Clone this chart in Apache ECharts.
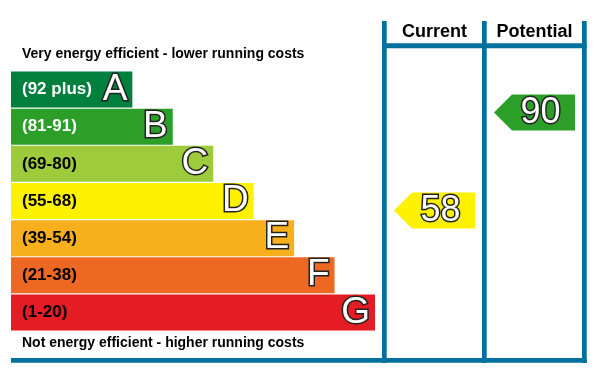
<!DOCTYPE html>
<html><head><meta charset="utf-8">
<script src="https://cdn.jsdelivr.net/npm/echarts@6/dist/echarts.min.js"></script>
<style>html,body{margin:0;padding:0;background:#fff}#c{width:605px;height:377px}</style>
</head><body><div id="c"></div>
<script>
// ---- data ----
const bands = ['A', 'B', 'C', 'D', 'E', 'F', 'G'];
const bandRanges = ['(92 plus)', '(81-91)', '(69-80)', '(55-68)', '(39-54)', '(21-38)', '(1-20)'];
const bandMin = [92, 81, 69, 55, 39, 21, 1];
const bandLengths = [3, 4, 5, 6, 7, 8, 9];
const columns = ['Current', 'Potential'];
const ratings = [58, 90];
const topNote = 'Very energy efficient - lower running costs';
const bottomNote = 'Not energy efficient - higher running costs';

// ---- styles ----
const bandColors = ['#007f3d', '#2c9f29', '#9dcb3c', '#fff200', '#f7af1d', '#ed6823', '#e31d23'];
const rangeTextColors = ['#ffffff', '#ffffff', '#000000', '#000000', '#000000', '#000000', '#000000'];
const frameBlue = '#00709c';
const FONT = 'Arial, "Liberation Sans", sans-serif';

function bandIndexFor(v) {
  for (let i = 0; i < bandMin.length; i++) if (v >= bandMin[i]) return i;
  return bandMin.length - 1;
}

const chart = echarts.init(document.getElementById('c'), null, { renderer: 'canvas' });

const option = {
  animation: false,
  backgroundColor: '#ffffff',
  grid: [
    { left: 11, top: 71, width: 364, height: 260 },
    { left: 384.5, top: 48.2, width: 200, height: 309.3 }
  ],
  xAxis: [
    { gridIndex: 0, type: 'value', min: 0, max: 9, show: false },
    {
      gridIndex: 1, type: 'category', data: columns, position: 'top',
      axisLine: { show: false }, axisTick: { show: false }, splitLine: { show: false },
      axisLabel: { margin: 7, fontSize: 18, fontWeight: 'bold', color: '#000', fontFamily: FONT }
    }
  ],
  yAxis: [
    {
      gridIndex: 0, type: 'category', data: bands, inverse: true, z: 10,
      axisLine: { show: false }, axisTick: { show: false }, splitLine: { show: false },
      axisLabel: {
        inside: true, margin: 11, fontSize: 17, fontWeight: 'bold', fontFamily: FONT,
        formatter: (v, i) => bandRanges[i],
        color: (v, i) => rangeTextColors[bands.indexOf(v)]
      }
    },
    { gridIndex: 1, type: 'value', min: 10, max: 111, show: false }
  ],
  series: [
    {
      type: 'bar', xAxisIndex: 0, yAxisIndex: 0, barWidth: 36,
      data: bandLengths.map((v, i) => ({ value: v, itemStyle: { color: bandColors[i] } })),
      label: {
        show: true, position: 'insideRight', distance: 5, formatter: '{b}',
        fontSize: 37, fontFamily: FONT, color: '#ffffff',
        textBorderColor: '#222222', textBorderWidth: 3
      }
    },
    {
      type: 'custom', xAxisIndex: 1, yAxisIndex: 1,
      data: ratings.map((v, i) => [i, v]),
      renderItem: (params, api) => {
        const v = api.value(1);
        const c = api.coord([api.value(0), v]);
        const cx = c[0], cy = c[1];
        const h = 36, w = 81, tip = 18;
        const l = cx - w / 2, r = cx + w / 2;
        return {
          type: 'group',
          children: [
            {
              type: 'polygon',
              shape: { points: [[l, cy], [l + tip, cy - h / 2], [r, cy - h / 2], [r, cy + h / 2], [l + tip, cy + h / 2]] },
              style: { fill: bandColors[bandIndexFor(v)] }
            },
            {
              type: 'text',
              style: {
                text: String(v), x: cx + 6, y: cy + 1, align: 'center', verticalAlign: 'middle',
                fill: '#ffffff', stroke: '#222222', lineWidth: 3, strokeFirst: true,
                font: '36px ' + FONT
              }
            }
          ]
        };
      }
    }
  ],
  graphic: [
    { type: 'text', left: 22, top: 47, style: { text: topNote, font: 'bold 14px ' + FONT, fill: '#000' } },
    { type: 'text', left: 22, top: 336, style: { text: bottomNote, font: 'bold 14px ' + FONT, fill: '#000' } },
    { type: 'rect', shape: { x: 382, y: 21, width: 4.7, height: 342 }, style: { fill: frameBlue } },
    { type: 'rect', shape: { x: 482, y: 21, width: 4.7, height: 342 }, style: { fill: frameBlue } },
    { type: 'rect', shape: { x: 582, y: 21, width: 4.7, height: 342 }, style: { fill: frameBlue } },
    { type: 'rect', shape: { x: 382, y: 43.3, width: 204.7, height: 5 }, style: { fill: frameBlue } },
    { type: 'rect', shape: { x: 11, y: 358, width: 575.7, height: 4.8 }, style: { fill: frameBlue } }
  ]
};
chart.setOption(option);
</script>
</body></html>
